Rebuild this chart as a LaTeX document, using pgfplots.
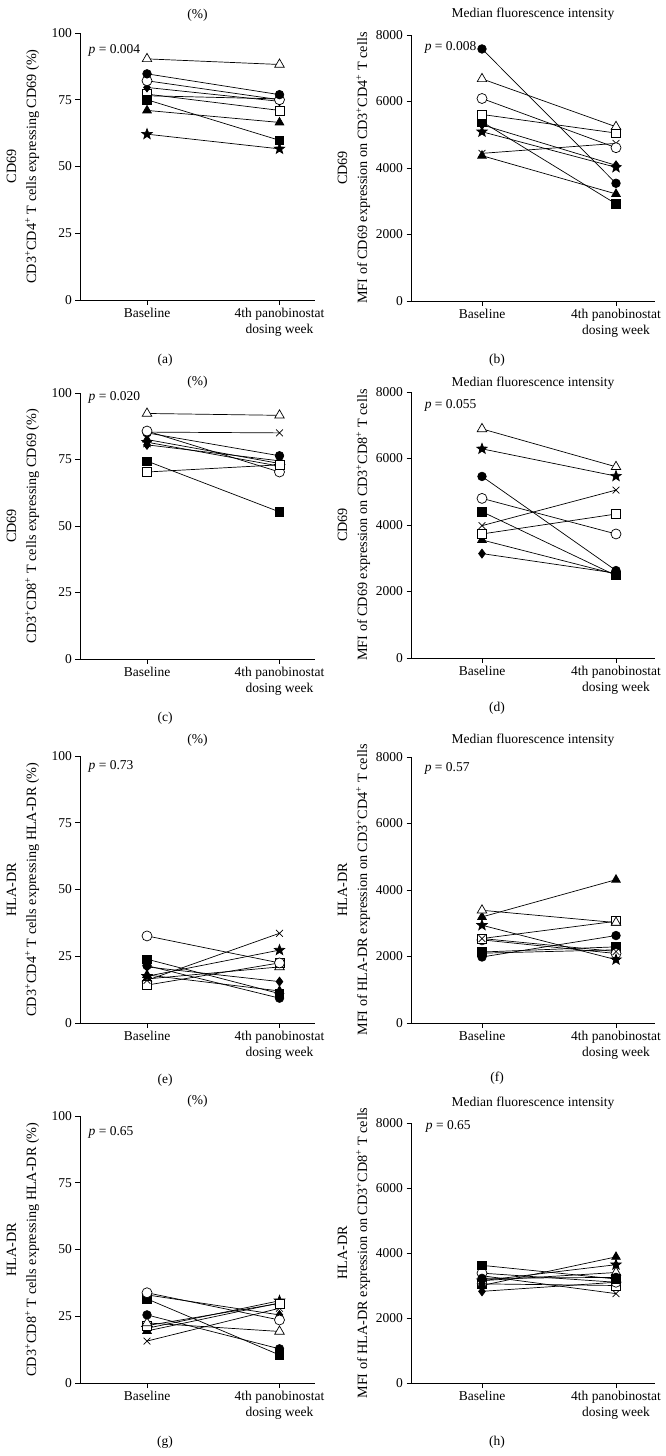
\documentclass[border=0pt]{standalone}
\usepackage{fontspec}
\setmainfont{Liberation Serif}
\usepackage{pgfplots}
\pgfplotsset{compat=1.18}
\usetikzlibrary{plotmarks}

\newcommand{\fs}{\fontsize{13.5}{16}\selectfont}
\newcommand{\fl}{\fontsize{14.2}{16}\selectfont}
\newcommand{\psup}{\textsuperscript{+}}

\pgfdeclareplotmark{fstar}{%
  \pgfpathmoveto{\pgfpointpolar{90}{\pgfplotmarksize}}%
  \pgfpathlineto{\pgfpointpolar{126}{0.42\pgfplotmarksize}}%
  \pgfpathlineto{\pgfpointpolar{162}{\pgfplotmarksize}}%
  \pgfpathlineto{\pgfpointpolar{198}{0.42\pgfplotmarksize}}%
  \pgfpathlineto{\pgfpointpolar{234}{\pgfplotmarksize}}%
  \pgfpathlineto{\pgfpointpolar{270}{0.42\pgfplotmarksize}}%
  \pgfpathlineto{\pgfpointpolar{306}{\pgfplotmarksize}}%
  \pgfpathlineto{\pgfpointpolar{342}{0.42\pgfplotmarksize}}%
  \pgfpathlineto{\pgfpointpolar{18}{\pgfplotmarksize}}%
  \pgfpathlineto{\pgfpointpolar{54}{0.42\pgfplotmarksize}}%
  \pgfpathclose\pgfusepathqfillstroke}

\pgfplotsset{
  panel/.style={scale only axis, axis x line=bottom, axis y line=left,
    axis line style={-, line width=0.7pt}, tick align=outside,
    major tick length=5pt, tick style={black, line width=0.7pt},
    xtick={0,1}, xticklabels={Baseline,{4th panobinostat\\dosing week}},
    xticklabel style={align=center, font=\fs},
    yticklabel style={font=\fs},
    ymin=0, /pgf/number format/assume math mode=true,
    /pgf/number format/1000 sep={}, scaled y ticks=false, clip=false,
    every axis plot/.append style={black, line width=0.7pt},
    ylabel style={anchor=center, align=center, font=\fl, rotate=0}},
  pctax/.style={panel, width=234.5pt, xmin=-0.502, xmax=1.268, ymax=100,
    ytick={0,25,50,75,100}, ylabel style={at={(rel axis cs:-0.245,0.5)}}},
  mfiax/.style={panel, width=243.5pt, xmin=-0.526, xmax=1.291, ymax=8000,
    ytick={0,2000,4000,6000,8000}, ylabel style={at={(rel axis cs:-0.236,0.5)}}},
  sT/.style={mark=triangle*, mark size=5.5pt, mark options={solid, fill=white}},
  sA/.style={mark=triangle*, mark size=5pt, mark options={solid, fill=black}},
  sC/.style={mark=*, mark size=4.3pt, mark options={solid, fill=black}},
  sO/.style={mark=*, mark size=5pt, mark options={solid, fill=white}},
  sD/.style={mark=diamond*, mark size=4.5pt, mark options={solid, fill=black}},
  sS/.style={mark=square*, mark size=4.5pt, mark options={solid, fill=white}},
  sQ/.style={mark=square*, mark size=4.2pt, mark options={solid, fill=black}},
  sX/.style={mark=x, mark size=4.8pt, mark options={solid}},
  sR/.style={mark=fstar, mark size=5.5pt, mark options={solid, fill=black}},
}
\newcommand{\pair}[3]{\addplot[#1] coordinates {(0,#2) (1,#3)};}

\begin{document}
\begin{tikzpicture}
\useasboundingbox (0,0) rectangle (665pt,1456pt);

% ---------- (a)
\begin{axis}[pctax, at={(80.5pt,1156pt)}, anchor=south west, height=267pt,
  ylabel={CD69\\[4pt]CD3\psup CD4\psup\ T cells expressing CD69 (\%)}]
\pair{sX}{76.5}{75.3}
\pair{sS}{77.1}{71}
\pair{sD}{79.6}{74.4}
\pair{sO}{82.1}{75}
\pair{sC}{84.7}{76.9}
\pair{sQ}{75}{59.8}
\pair{sA}{71}{66.5}
\pair{sR}{62.1}{56.6}
\pair{sT}{90.3}{88.2}
\node[anchor=west, font=\fs] at (rel axis cs:0.02,0.936) {\textit{p} = 0.004};
\end{axis}

% ---------- (b)
\begin{axis}[mfiax, at={(411.5pt,1155pt)}, anchor=south west, height=266pt,
  ylabel={CD69\\[4pt]MFI of CD69 expression on CD3\psup CD4\psup\ T cells}]
\pair{sD}{5300}{4080}
\pair{sQ}{5390}{2920}
\pair{sR}{5090}{4020}
\pair{sA}{4370}{3220}
\pair{sX}{4440}{4740}
\pair{sO}{6090}{4610}
\pair{sS}{5610}{5050}
\pair{sT}{6680}{5240}
\pair{sC}{7580}{3540}
\node[anchor=west, font=\fs] at (rel axis cs:0.04,0.952) {\textit{p} = 0.008};
\end{axis}

% ---------- (c)
\begin{axis}[pctax, at={(80.5pt,797pt)}, anchor=south west, height=266pt,
  ylabel={CD69\\[4pt]CD3\psup CD8\psup\ T cells expressing CD69 (\%)}]
\pair{sD}{80.5}{74.5}
\pair{sA}{82.5}{73.5}
\pair{sR}{81.5}{72.5}
\pair{sC}{85}{76.4}
\pair{sX}{85.3}{85}
\pair{sO}{85.7}{70.3}
\pair{sQ}{74.4}{55.3}
\pair{sS}{70.3}{73}
\pair{sT}{92.3}{91.6}
\node[anchor=west, font=\fs] at (rel axis cs:0.02,0.982) {\textit{p} = 0.020};
\end{axis}

% ---------- (d)
\begin{axis}[mfiax, at={(411.5pt,798pt)}, anchor=south west, height=266pt,
  ylabel={CD69\\[4pt]MFI of CD69 expression on CD3\psup CD8\psup\ T cells}]
\pair{sD}{3140}{2550}
\pair{sA}{3550}{2520}
\pair{sQ}{4400}{2480}
\pair{sC}{5460}{2630}
\pair{sS}{3730}{4330}
\pair{sX}{3980}{5050}
\pair{sO}{4800}{3730}
\pair{sR}{6290}{5470}
\pair{sT}{6890}{5750}
\node[anchor=west, font=\fs] at (rel axis cs:0.04,0.951) {\textit{p} = 0.055};
\end{axis}

% ---------- (e)
\begin{axis}[pctax, at={(80.5pt,433pt)}, anchor=south west, height=267pt,
  ylabel={HLA-DR\\[4pt]CD3\psup CD4\psup\ T cells expressing HLA-DR (\%)}]
\pair{sT}{16.5}{21}
\pair{sS}{14.2}{22.5}
\pair{sX}{16}{33.6}
\pair{sR}{17.5}{27.3}
\pair{sA}{18}{12}
\pair{sD}{21}{15.5}
\pair{sC}{21.5}{9.3}
\pair{sQ}{23.9}{11}
\pair{sO}{32.6}{22.5}
\node[anchor=west, font=\fs] at (rel axis cs:0.02,0.96) {\textit{p} = 0.73};
\end{axis}

% ---------- (f)
\begin{axis}[mfiax, at={(411.5pt,433pt)}, anchor=south west, height=266pt,
  ylabel={HLA-DR\\[4pt]MFI of HLA-DR expression on CD3\psup CD4\psup\ T cells}]
\pair{sD}{2100}{2200}
\pair{sC}{1985}{2630}
\pair{sQ}{2135}{2290}
\pair{sO}{2500}{2090}
\pair{sS}{2540}{3060}
\pair{sX}{2540}{2150}
\pair{sR}{2940}{1905}
\pair{sA}{3190}{4310}
\pair{sT}{3390}{3020}
\node[anchor=west, font=\fs] at (rel axis cs:0.04,0.957) {\textit{p} = 0.57};
\end{axis}

% ---------- (g)
\begin{axis}[pctax, at={(80.5pt,73pt)}, anchor=south west, height=267pt,
  ylabel={HLA-DR\\[4pt]CD3\psup CD8\psup\ T cells expressing HLA-DR (\%)}]
\pair{sX}{15.7}{28}
\pair{sA}{19.5}{30}
\pair{sR}{20.5}{30.8}
\pair{sS}{21.5}{29.8}
\pair{sT}{22.5}{19.3}
\pair{sC}{25.5}{12.8}
\pair{sQ}{31.5}{10.5}
\pair{sD}{33}{25.5}
\pair{sO}{33.8}{23.6}
\node[anchor=west, font=\fs] at (rel axis cs:0.02,0.937) {\textit{p} = 0.65};
\end{axis}

% ---------- (h)
\begin{axis}[mfiax, at={(411.5pt,73pt)}, anchor=south west, height=260pt,
  ylabel={HLA-DR\\[4pt]MFI of HLA-DR expression on CD3\psup CD8\psup\ T cells}]
\pair{sD}{2820}{3100}
\pair{sS}{3050}{3000}
\pair{sT}{3150}{3400}
\pair{sR}{3150}{3640}
\pair{sA}{3000}{3880}
\pair{sX}{3300}{2750}
\pair{sO}{3380}{3100}
\pair{sC}{3220}{3250}
\pair{sQ}{3620}{3200}
\node[anchor=west, font=\fs] at (rel axis cs:0.045,0.986) {\textit{p} = 0.65};
\end{axis}

% ---------- titles and panel letters
\begin{scope}[every node/.style={font=\fs}]
\node at (197.5pt,1441pt) {(\%)};
\node at (533pt,1442pt) {Median fluorescence intensity};
\node at (197.5pt,1074pt) {(\%)};
\node at (533pt,1073pt) {Median fluorescence intensity};
\node at (197.5pt,716pt) {(\%)};
\node at (533pt,716pt) {Median fluorescence intensity};
\node at (197.5pt,355pt) {(\%)};
\node at (533pt,353pt) {Median fluorescence intensity};
\node at (165pt,1096pt) {(a)};
\node at (497pt,1096pt) {(b)};
\node at (165pt,738pt) {(c)};
\node at (497pt,748pt) {(d)};
\node at (165pt,376pt) {(e)};
\node at (497pt,378pt) {(f)};
\node at (165pt,14pt) {(g)};
\node at (497pt,14pt) {(h)};
\end{scope}
\end{tikzpicture}
\end{document}
